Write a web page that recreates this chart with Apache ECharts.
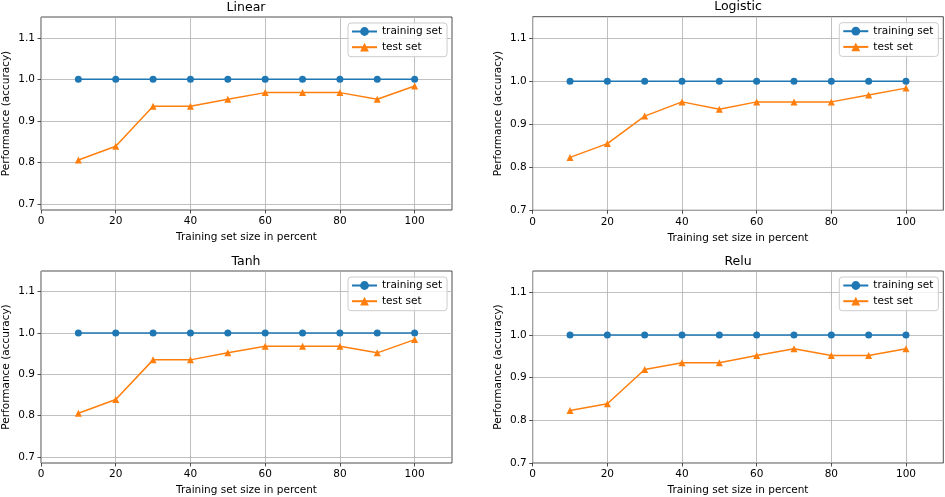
<!DOCTYPE html>
<html><head><meta charset="utf-8">
<script src="https://cdn.jsdelivr.net/npm/echarts@6/dist/echarts.min.js"></script>
<style>html,body{margin:0;padding:0;background:#fff}#c{width:945px;height:497px}</style>
</head><body><div id="c"></div>
<script>
// ---- data ----
const trainingSizes = [10, 20, 30, 40, 50, 60, 70, 80, 90, 100];
const panelTitles = ['Linear', 'Logistic', 'Tanh', 'Relu'];
const linearTrain   = [1.0, 1.0, 1.0, 1.0, 1.0, 1.0, 1.0, 1.0, 1.0, 1.0];
const linearTest    = [0.806, 0.839, 0.935, 0.935, 0.952, 0.968, 0.968, 0.968, 0.952, 0.984];
const logisticTrain = [1.0, 1.0, 1.0, 1.0, 1.0, 1.0, 1.0, 1.0, 1.0, 1.0];
const logisticTest  = [0.823, 0.855, 0.919, 0.952, 0.935, 0.952, 0.952, 0.952, 0.968, 0.984];
const tanhTrain     = [1.0, 1.0, 1.0, 1.0, 1.0, 1.0, 1.0, 1.0, 1.0, 1.0];
const tanhTest      = [0.806, 0.839, 0.935, 0.935, 0.952, 0.968, 0.968, 0.968, 0.952, 0.984];
const reluTrain     = [1.0, 1.0, 1.0, 1.0, 1.0, 1.0, 1.0, 1.0, 1.0, 1.0];
const reluTest      = [0.823, 0.839, 0.919, 0.935, 0.935, 0.952, 0.968, 0.952, 0.952, 0.968];
const xTickValues = [0, 20, 40, 60, 80, 100];
const yTickValues = [0.7, 0.8, 0.9, 1.0, 1.1];
const yAxisMins = [0.6855, 0.7, 0.6855, 0.7];
const yAxisMax = 1.15;
const xAxisMax = 110;
const seriesNames = ['training set', 'test set'];

const trainSets = [linearTrain, logisticTrain, tanhTrain, reluTrain];
const testSets = [linearTest, logisticTest, tanhTest, reluTest];

// ---- layout ----
const layout = [
  {left: 40, top: 17, width: 412, height: 193},
  {left: 532.7, top: 16.7, width: 410.6, height: 193.6},
  {left: 40, top: 271, width: 412, height: 192.3},
  {left: 532.7, top: 271, width: 410.6, height: 192.3}
];
const FONT = 'DejaVu Sans';
const fs = 10.5;
const colors = ['#1f77b4', '#ff7f0e'];

const grid = [], xAxis = [], yAxis = [], title = [], legend = [], series = [];
layout.forEach((g, i) => {
  grid.push({left: g.left, top: g.top, width: g.width, height: g.height, show: true,
    borderColor: '#222', borderWidth: 0.8, backgroundColor: 'transparent'});
  title.push({text: panelTitles[i], left: g.left + g.width / 2, top: g.top - 16, textAlign: 'center', padding: 0,
    textStyle: {fontFamily: FONT, fontSize: 12.5, fontWeight: 'normal', color: '#000'}});
  legend.push({orient: 'vertical', left: g.left + g.width - 104, top: g.top + 6,
    data: seriesNames, itemWidth: 25, itemHeight: 11, itemGap: 4.7, padding: [3, 5, 4, 3],
    backgroundColor: 'rgba(255,255,255,0.8)', borderColor: '#cccccc', borderWidth: 1, borderRadius: 3,
    textStyle: {fontFamily: FONT, fontSize: fs, color: '#000'}, selectedMode: false});
  xAxis.push({type: 'value', gridIndex: i, min: 0, max: xAxisMax,
    name: 'Training set size in percent', nameLocation: 'middle', nameGap: 22,
    nameTextStyle: {fontFamily: FONT, fontSize: fs, color: '#000'},
    axisLine: {show: false},
    axisTick: {show: true, inside: false, length: 3.5, customValues: xTickValues, lineStyle: {color: '#222', width: 0.8}},
    axisLabel: {customValues: xTickValues, margin: 6, fontFamily: FONT, fontSize: fs, color: '#000'},
    splitLine: {show: true, lineStyle: {color: '#b0b0b0', width: 0.8}}});
  yAxis.push({type: 'value', gridIndex: i, min: yAxisMins[i], max: yAxisMax,
    name: 'Performance (accuracy)', nameLocation: 'middle', nameGap: 29,
    nameTextStyle: {fontFamily: FONT, fontSize: fs, color: '#000'},
    axisLine: {show: false},
    axisTick: {show: true, inside: false, length: 3.5, customValues: yTickValues, lineStyle: {color: '#222', width: 0.8}},
    axisLabel: {customValues: yTickValues, margin: 6, fontFamily: FONT, fontSize: fs, color: '#000',
      formatter: v => v.toFixed(1)},
    splitLine: {show: true, lineStyle: {color: '#b0b0b0', width: 0.8}}});
  [trainSets[i], testSets[i]].forEach((vals, k) => {
    series.push({type: 'line', name: seriesNames[k], xAxisIndex: i, yAxisIndex: i,
      data: trainingSizes.map((x, j) => [x, vals[j]]),
      symbol: k === 0 ? 'circle' : 'triangle', symbolSize: 7, showSymbol: true,
      lineStyle: {width: 1.5, color: colors[k]}, itemStyle: {color: colors[k]},
      emphasis: {disabled: true}, z: 3 + k});
  });
});

const chart = echarts.init(document.getElementById('c'), null, {renderer: 'canvas'});
chart.setOption({animation: false, backgroundColor: '#fff', grid, xAxis, yAxis, title, legend, series});
</script>
</body></html>
